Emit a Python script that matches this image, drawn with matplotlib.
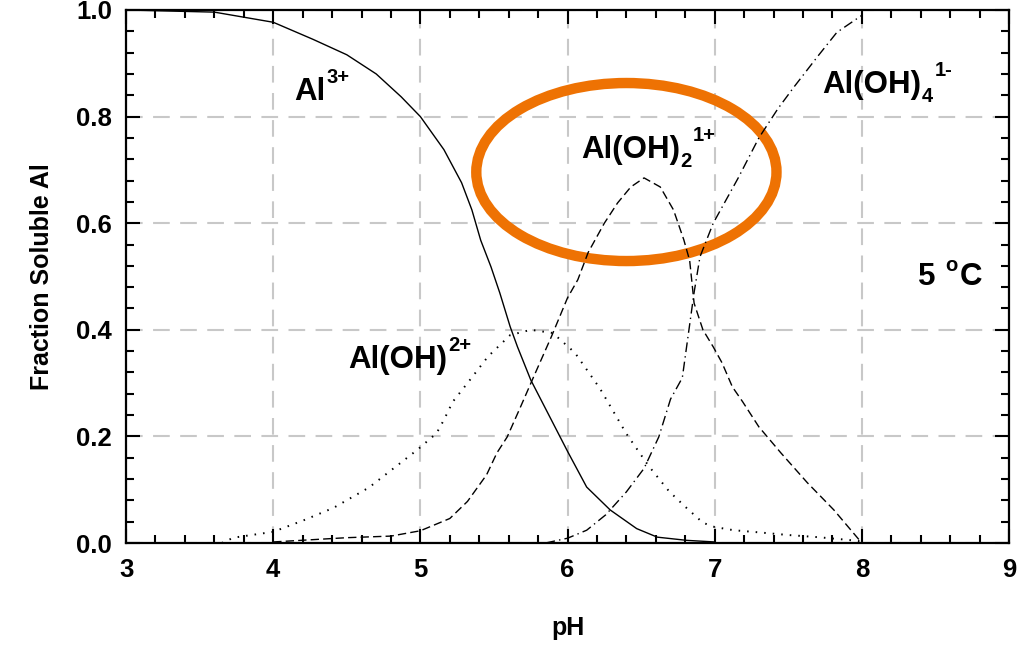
import matplotlib.pyplot as plt
from matplotlib.patches import Ellipse
from matplotlib.ticker import MultipleLocator

plt.rcParams['font.family'] = ['Liberation Sans', 'DejaVu Sans']
plt.rcParams['font.weight'] = 'bold'

# fraction of soluble Al species vs pH at 5 C
ph_al3 = [3.0, 3.6, 4.0, 4.27, 4.5, 4.7, 4.87, 5.0, 5.16, 5.28, 5.35, 5.41, 5.48, 5.54, 5.61, 5.66,
          5.75, 5.89, 6.0, 6.13, 6.29, 6.47, 6.61, 6.81, 7.0]
al3 = [1.0, 0.996, 0.977, 0.945, 0.916, 0.88, 0.837, 0.80, 0.738, 0.676, 0.625, 0.568, 0.518, 0.469, 0.406, 0.368,
       0.306, 0.231, 0.172, 0.105, 0.062, 0.027, 0.011, 0.005, 0.002]

ph_aloh = [3.65, 3.73, 4.0, 4.21, 4.41, 4.65, 4.98, 5.11, 5.16, 5.22, 5.32, 5.46, 5.61, 5.75,
           5.9, 6.05, 6.22, 6.4, 6.55, 6.69, 6.8, 6.92, 7.0, 7.13, 7.3, 7.5, 7.7, 7.9, 8.0]
aloh = [0.0, 0.01, 0.021, 0.043, 0.066, 0.104, 0.175, 0.206, 0.231, 0.265, 0.30, 0.35, 0.39, 0.40,
        0.394, 0.357, 0.29, 0.205, 0.145, 0.097, 0.068, 0.038, 0.03, 0.024, 0.02, 0.015, 0.011, 0.006, 0.003]

ph_aloh2 = [4.0, 4.5, 4.8, 5.0, 5.2, 5.32, 5.45, 5.52, 5.59, 5.68, 5.77, 5.89, 6.0, 6.07, 6.14,
            6.25, 6.34, 6.43, 6.52, 6.63, 6.72, 6.79, 6.83, 6.86, 6.92, 6.99, 7.05, 7.12, 7.19,
            7.3, 7.45, 7.63, 7.81, 8.0]
aloh2 = [0.002, 0.01, 0.013, 0.023, 0.046, 0.078, 0.128, 0.169, 0.199, 0.255, 0.312, 0.387, 0.46, 0.494, 0.545,
         0.60, 0.638, 0.668, 0.685, 0.668, 0.625, 0.569, 0.53, 0.45, 0.40, 0.368, 0.338, 0.293, 0.265,
         0.218, 0.169, 0.113, 0.062, 0.0]

ph_aloh4 = [5.85, 6.0, 6.13, 6.26, 6.4, 6.52, 6.62, 6.7, 6.78, 6.82, 6.86, 6.9, 6.99, 7.16, 7.3,
            7.43, 7.54, 7.7, 7.83, 8.0]
aloh4 = [0.0, 0.009, 0.024, 0.053, 0.096, 0.14, 0.199, 0.27, 0.31, 0.39, 0.47, 0.537, 0.60, 0.685, 0.76,
         0.815, 0.856, 0.913, 0.958, 0.99]

fig = plt.figure(figsize=(10.19, 6.49), dpi=100)
ax = fig.add_axes([0.1237, 0.1633, 0.8665, 0.8213])

ax.plot(ph_al3, al3, color='black', lw=1.0, ls='-')
ax.plot(ph_aloh, aloh, color='black', lw=1.4, ls=(0, (0.8, 3.6)))
ax.plot(ph_aloh2, aloh2, color='black', lw=1.0, ls=(0, (6, 3)))
ax.plot(ph_aloh4, aloh4, color='black', lw=1.0, ls=(0, (7, 3, 1, 3)))

ax.set_xlim(3, 9)
ax.set_ylim(0, 1.0)
ax.xaxis.set_major_locator(MultipleLocator(1))
ax.xaxis.set_minor_locator(MultipleLocator(0.2))
ax.yaxis.set_major_locator(MultipleLocator(0.2))
ax.yaxis.set_minor_locator(MultipleLocator(0.04))
ax.yaxis.set_major_formatter(plt.FormatStrFormatter('%.1f'))

ax.grid(True, which='major', color='#c8c8c8', lw=1.5, ls=(0, (8, 5)))
ax.set_axisbelow(True)
for s in ax.spines.values():
    s.set_linewidth(1.6)
ax.tick_params(which='both', direction='in', top=True, right=True, width=1.5)
ax.tick_params(which='major', length=10, labelsize=18.5)
ax.tick_params(axis='x', which='major', pad=11)
ax.tick_params(axis='y', which='major', pad=10)
ax.tick_params(which='minor', length=6)

ax.set_xlabel('pH', fontsize=18, fontweight='bold', labelpad=24)
ax.set_ylabel('Fraction Soluble Al', fontsize=18, fontweight='bold', labelpad=16)

BASE = 22.5
SMALL = 14.5


def species(x, y, base, sub=None, sup=None, tail=None, sup_rise=12):
    # base text, then subscript / superscript / trailing text chained off each other's bbox
    t = ax.text(x, y, base, fontsize=BASE, fontweight='bold')
    last = t
    if sub:
        last = ax.annotate(sub, xy=(1, y), xycoords=(last, 'data'), xytext=(0.5, -7),
                           textcoords='offset points', fontsize=SMALL, fontweight='bold')
    if sup:
        last = ax.annotate(sup, xy=(1, y), xycoords=(last, 'data'), xytext=(1, sup_rise),
                           textcoords='offset points', fontsize=SMALL, fontweight='bold')
    if tail:
        ax.annotate(tail, xy=(1, y), xycoords=(last, 'data'), xytext=(1.5, 0),
                    textcoords='offset points', fontsize=BASE, fontweight='bold')


species(4.14, 0.832, 'Al', sup='3+')
species(4.51, 0.329, 'Al(OH)', sup='2+')
species(6.09, 0.723, 'Al(OH)', sub='2', sup='1+')
species(7.73, 0.845, 'Al(OH)', sub='4', sup='1-')
species(8.38, 0.485, '5 ', sup='o', tail='C', sup_rise=10)

ring = Ellipse((6.40, 0.696), 2.04, 0.334, fill=False, edgecolor='#ee7203', lw=7.5, clip_on=False)
ax.add_patch(ring)

fig.savefig('out.png', dpi=100)
